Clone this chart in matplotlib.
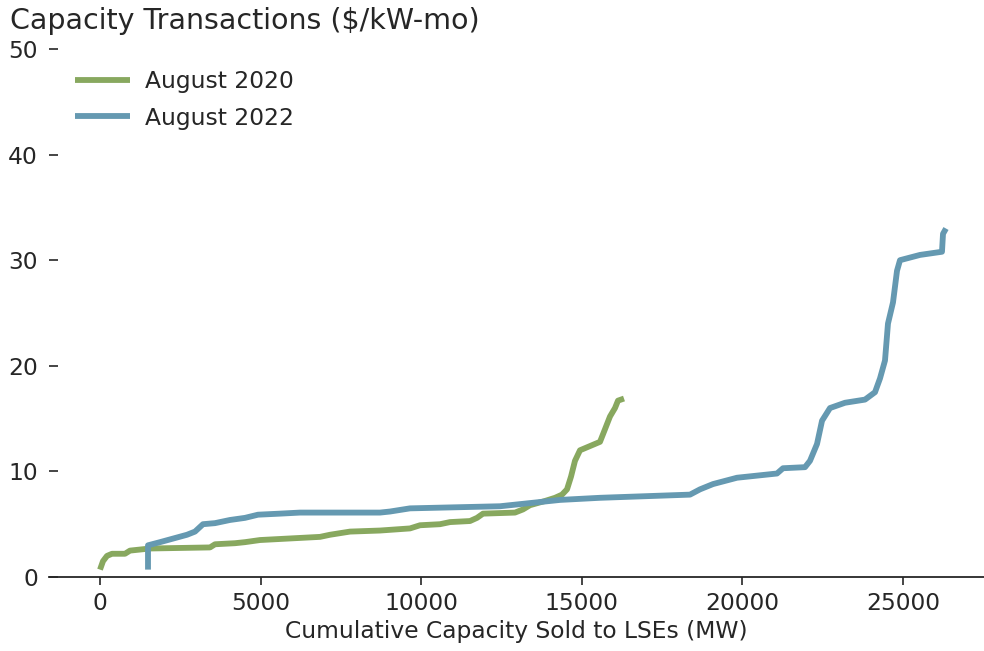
import matplotlib
matplotlib.use("Agg")
import matplotlib.pyplot as plt

# August 2020 supply curve (cumulative MW, $/kW-mo)
aug2020_mw = [0, 93, 218, 374, 778, 934, 1557, 3424, 3580, 4203, 4514, 4981, 6226, 6849,
              7160, 7783, 8716, 9650, 9962, 10584, 10896, 11518, 11736, 11923, 12919,
              13168, 13386, 13853, 14164, 14382, 14538, 14662, 14786, 14942, 15254,
              15565, 15721, 15876, 16032, 16125, 16312]
aug2020_price = [0.7, 1.5, 2.0, 2.2, 2.2, 2.5, 2.7, 2.8, 3.1, 3.2, 3.3, 3.5, 3.7, 3.8,
                 4.0, 4.3, 4.4, 4.6, 4.9, 5.0, 5.2, 5.3, 5.6, 6.0, 6.1,
                 6.4, 6.8, 7.2, 7.5, 7.8, 8.3, 9.5, 11.0, 12.0, 12.4,
                 12.8, 14.0, 15.2, 16.0, 16.7, 16.9]

# August 2022 supply curve
aug2022_mw = [1494, 1494, 1868, 2708, 2957, 3206, 3580, 4047, 4514, 4918, 5603, 6226, 8716,
              9028, 9650, 12452, 13075, 14320, 15565, 17433, 18367, 18678, 19083, 19830,
              21075, 21262, 21947, 22102, 22321, 22477, 22725, 23192, 23815, 24126,
              24281, 24437, 24530, 24686, 24811, 24904, 25527, 26211, 26243, 26336]
aug2022_price = [0.7, 3.0, 3.3, 4.0, 4.3, 5.0, 5.1, 5.4, 5.6, 5.9, 6.0, 6.1, 6.1,
                 6.2, 6.5, 6.7, 6.9, 7.3, 7.5, 7.7, 7.8, 8.3, 8.8, 9.4,
                 9.8, 10.3, 10.4, 11.0, 12.6, 14.8, 16.0, 16.5, 16.8, 17.5,
                 18.8, 20.5, 24.0, 26.0, 29.0, 30.0, 30.5, 30.8, 32.5, 33.0]

series_labels = ["August 2020", "August 2022"]
yticks = [0, 10, 20, 30, 40, 50]
xticks = [0, 5000, 10000, 15000, 20000, 25000]

green = "#88a85f"
blue = "#6599b1"
textc = "#262626"
fs = 16.8

fig = plt.figure(figsize=(9.84, 6.51), dpi=100)
ax = fig.add_axes([49 / 984, 74 / 651, (984 - 49) / 984, (577 - 49) / 651])

ax.plot(aug2020_mw, aug2020_price, color=green, lw=4.2, label=series_labels[0],
        solid_capstyle="butt")
ax.plot(aug2022_mw, aug2022_price, color=blue, lw=4.2, label=series_labels[1],
        solid_capstyle="butt")

ax.set_xlim(-1588, 27519)
ax.set_ylim(0, 50)
ax.set_xticks(xticks)
ax.set_yticks(yticks)
for s in ["top", "right", "left"]:
    ax.spines[s].set_visible(False)
ax.spines["bottom"].set_linewidth(1.3)
ax.spines["bottom"].set_color(textc)
ax.tick_params(axis="x", direction="out", length=5.8, width=1.2, pad=4.9,
               labelsize=fs, colors=textc)
ax.tick_params(axis="y", direction="in", length=6.5, width=1.2, pad=8,
               labelsize=fs, colors=textc)
ax.set_xlabel("Cumulative Capacity Sold to LSEs (MW)", fontsize=fs, color=textc)

fig.text(10 / 984, 1 - 21 / 651, "Capacity Transactions ($/kW-mo)", fontsize=20.5,
         color=textc, va="center", ha="left")

leg = ax.legend(loc="upper left", frameon=False, fontsize=fs, handlelength=2.35,
                handletextpad=0.65, labelspacing=0.58, bbox_to_anchor=(0.005, 1.0))
for t in leg.get_texts():
    t.set_color(textc)

fig.savefig("out.png", dpi=100)
